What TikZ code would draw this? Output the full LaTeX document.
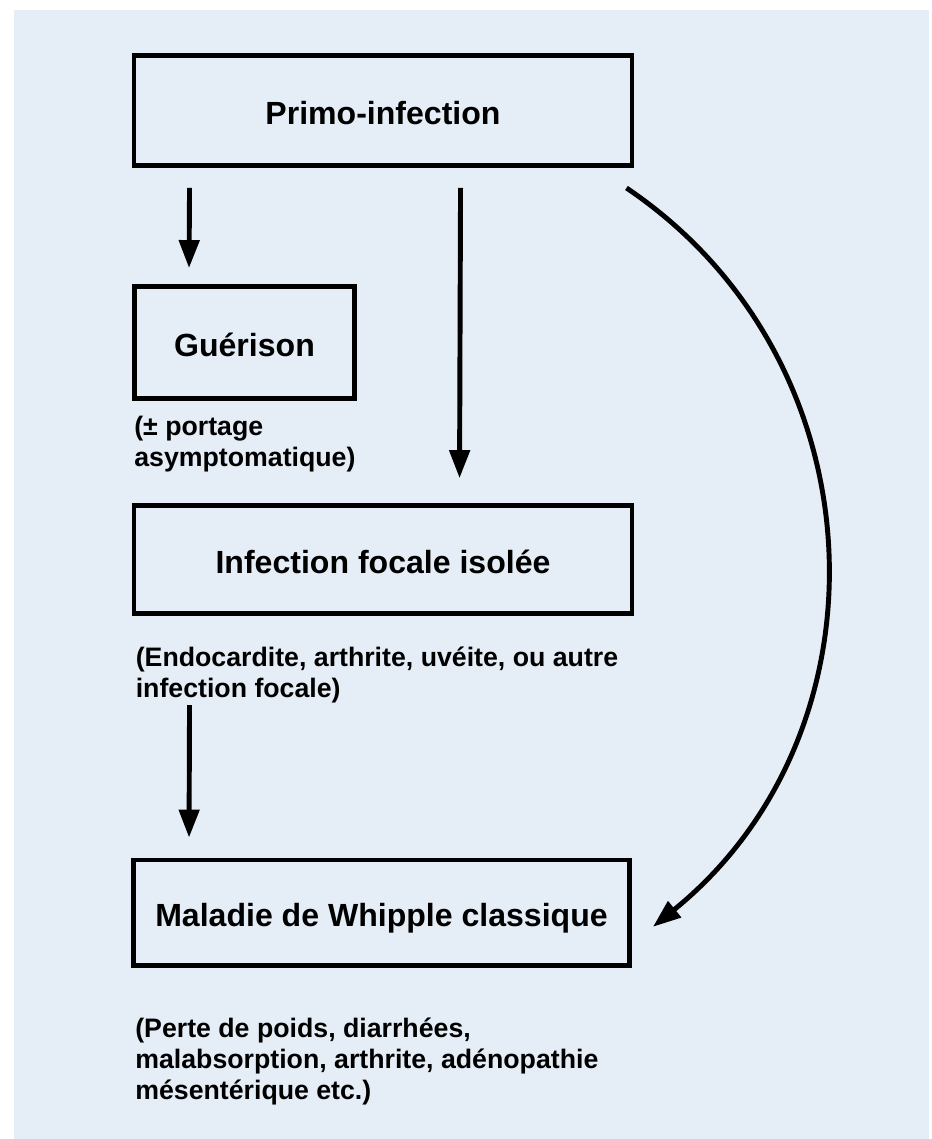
\documentclass[tikz,border=0pt]{standalone}
\usepackage{fontspec}
\setmainfont{Liberation Sans}
\usepackage{xcolor}
\usepackage{tikz}
\usetikzlibrary{positioning, arrows.meta}
\definecolor{bgblue}{RGB}{229,237,246}

\begin{document}
\begin{tikzpicture}[
  box/.style={
    draw, line width=3.5pt, fill=bgblue,
    minimum width=12.45cm, minimum height=2.7cm,
    text height=19.2pt, text depth=0pt,
    font=\fontsize{22.8pt}{26pt}\selectfont\bfseries
  },
  note/.style={
    inner sep=0pt, align=left,
    font=\fontsize{19pt}{21.9pt}\selectfont\bfseries
  },
  arrow/.style={-{Triangle[length=0.7cm, width=0.5cm]}, line width=3.5pt},
]
\useasboundingbox (0,0) rectangle (23.3,-28.475);
\fill[bgblue] (0.35,-0.25) rectangle (23.225,-28.475);

% Boxes
\node[box, minimum height=2.75cm] (primo) at (9.575,-2.7625) {Primo-infection};
\node[box, minimum width=5.5cm, minimum height=2.8cm] (guer) at (6.1125,-8.5625) {Guérison};
\node[box] (focal) at (9.575,-13.99) {Infection focale isolée};
\node[box, minimum width=12.4cm, minimum height=2.64cm] (whip) at (9.5375,-22.82) {Maladie de Whipple classique};

% Notes
\node[note, below=0.375cm of guer.south west, anchor=north west, xshift=0.05cm] (guernote)
  {(± portage\\asymptomatique)};
\node[note, below=0.775cm of focal.south west, anchor=north west, xshift=0.1cm] (focalnote)
  {(Endocardite, arthrite, uvéite, ou autre\\infection focale)};
\node[note, below=1.24cm of whip.south west, anchor=north west, xshift=0.1cm] (whipnote)
  {(Perte de poids, diarrhées,\\malabsorption, arthrite, adénopathie\\mésentérique etc.)};

% Arrows
\draw[arrow] ([xshift=1.45cm, yshift=-0.5cm]primo.south west) -- ([xshift=1.425cm, yshift=0.4cm]guer.north west);
\draw[arrow] ([xshift=8.225cm, yshift=-0.5cm]primo.south west) -- ([xshift=8.2cm, yshift=0.625cm]focal.north west);
\draw[arrow] ([xshift=1.45cm, yshift=-2.225cm]focal.south west) -- ([xshift=1.45cm, yshift=0.5cm]whip.north west);
\draw[arrow] ([xshift=-0.2cm, yshift=-0.5cm]primo.south east)
  to[out=-34, in=39, looseness=1.07] ([xshift=0.525cm, yshift=-0.35cm]whip.east);

\end{tikzpicture}
\end{document}
